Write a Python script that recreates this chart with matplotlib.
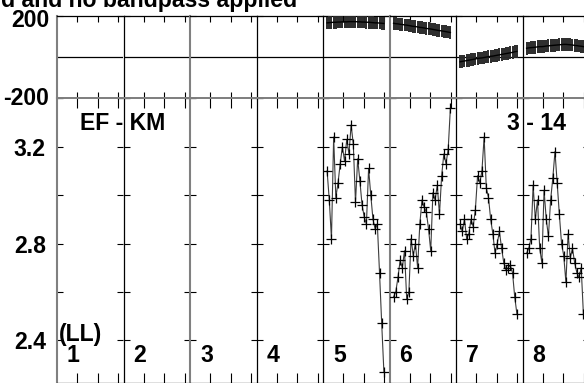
import matplotlib
matplotlib.use("Agg")
import matplotlib.pyplot as plt
import numpy as np

# ---------------- data ----------------
panel_numbers = ["1", "2", "3", "4", "5", "6", "7", "8"]
chan = [0.8 + 0.427 * i for i in range(27)]  # channel positions within a panel

phase5 = [168, 169, 170, 171, 171, 172, 172, 173, 173, 173, 174, 174, 174, 174,
          173, 173, 172, 172, 171, 171, 170, 169, 168, 168, 167, 166, 165]
phase6 = [166, 164, 163, 161, 160, 158, 157, 155, 153, 151, 150, 148, 146, 145,
          143, 141, 139, 138, 136, 134, 132, 130, 129, 127, 125, 123, 121]
phase7 = [-22, -20, -18, -16, -14, -12, -10, -8, -6, -4, -3, -1, 1, 3,
          5, 6, 8, 10, 12, 14, 16, 18, 20, 22, 24, 27, 29]
phase8 = [44, 46, 47, 48, 49, 51, 52, 52, 53, 55, 56, 57, 58, 59,
          60, 61, 62, 63, 63, 62, 61, 60, 58, 57, 55, 54, 52]
phase_err = 31

amp5 = [3.10, 2.98, 2.82, 3.24, 2.99, 3.05, 3.13, 3.20, 3.14, 3.23, 3.17, 3.29, 3.21, 2.97,
        3.15, 3.06, 2.96, 2.91, 2.88, 3.11, 3.00, 2.90, 2.86, 2.88, 2.68, 2.47, 2.27]
amp6 = [2.58, 2.60, 2.66, 2.73, 2.70, 2.77, 2.57, 2.60, 2.82, 2.75, 2.80, 2.70, 2.88, 2.98,
        2.95, 2.93, 2.86, 2.77, 3.01, 2.98, 3.04, 2.92, 3.08, 3.17, 3.13, 3.19, 3.36]
amp7 = [2.88, 2.85, 2.90, 2.82, 2.84, 2.90, 2.87, 2.94, 3.08, 3.05, 3.10, 3.24, 3.03, 2.99,
        2.90, 2.84, 2.76, 2.80, 2.85, 2.78, 2.72, 2.69, 2.70, 2.71, 2.68, 2.58, 2.51]
amp8 = [2.76, 2.78, 2.82, 3.04, 2.90, 2.98, 2.78, 2.72, 3.02, 2.90, 2.83, 2.98, 3.07, 3.18,
        3.05, 2.92, 2.80, 2.75, 2.64, 2.84, 2.74, 2.78, 2.72, 2.68, 2.66, 2.70, 2.51]

phases = {4: phase5, 5: phase6, 6: phase7, 7: phase8}
amps = {4: amp5, 5: amp6, 6: amp7, 7: amp8}

phase_ticks = [-200, 200]
phase_labels = ["-200", "200"]
amp_ticks = [2.4, 2.6, 2.8, 3.0, 3.2, 3.4]
amp_labels = ["2.4", "", "2.8", "", "3.2", ""]
x_ticks = [4, 8, 12]

title_text = "d and no bandpass applied"
baseline_label = "EF - KM"
source_label = "3 - 14"
pol_label = "(LL)"

# ---------------- layout ----------------
W, H = 584, 383
FONT = "Liberation Sans"
FS = 16.6
fig = plt.figure(figsize=(W / 100, H / 100), dpi=100)

x0 = 57.0
pw = 66.5
top_y0, top_y1 = 16.3, 98.3
bot_y0, bot_y1 = 98.3, 383.0

spine_cols = ["#808080", "black", "#808080", "black", "black", "#808080", "black", "black"]

def fx(px):
    return px / W

def fy(py):
    return 1 - py / H

for i in range(8):
    left = x0 + pw * i
    axt = fig.add_axes([fx(left), fy(top_y1), pw / W, (top_y1 - top_y0) / H])
    axb = fig.add_axes([fx(left), fy(bot_y1), pw / W, (bot_y1 - bot_y0) / H])

    for ax in (axt, axb):
        ax.set_xlim(0, 13)
        ax.set_xticks(x_ticks)
        ax.set_xticklabels([])
        ax.tick_params(axis="both", direction="in", top=True, bottom=True,
                       left=True, right=True, length=4.5, width=0.8, color="black")
        ax.spines["right"].set_visible(i == 7)
        ax.spines["left"].set_color(spine_cols[i])
        ax.spines["left"].set_linewidth(1.5 if spine_cols[i] != "black" else 0.9)
        ax.spines["top"].set_linewidth(0.9)
        ax.spines["bottom"].set_linewidth(0.9)
        ax.patch.set_visible(False)

    axt.spines["bottom"].set_color("#808080")
    axt.spines["bottom"].set_linewidth(1.4)
    axb.spines["top"].set_color("#808080")
    axb.spines["top"].set_linewidth(1.4)
    axb.tick_params(axis="x", which="both", length=7)

    axt.set_ylim(-200, 200)
    axt.set_yticks(phase_ticks)
    axt.axhline(0, color="black", lw=0.9, zorder=1)
    axb.set_ylim(2.2236, 3.4)
    axb.set_yticks(amp_ticks)
    axt.set_yticklabels([])

    if i == 0:
        axb.set_yticklabels(amp_labels, fontsize=FS, fontweight="bold", family=FONT)
        axb.tick_params(axis="y", pad=8)
        # phase labels drawn as texts so the top one can sit just inside the figure
        axt.text(-8 / pw, -200, phase_labels[0], transform=axt.get_yaxis_transform(),
                 fontsize=FS, fontweight="bold", family=FONT, ha="right", va="center")
        fig.text(fx(49.5), fy(20.5), phase_labels[1], fontsize=FS, fontweight="bold",
                 family=FONT, ha="right", va="center")
    else:
        axb.set_yticklabels([])

    if i in phases:
        axt.errorbar(chan, phases[i], yerr=phase_err, fmt="-", color="black", lw=1.0,
                     ecolor="#2a2a2a", elinewidth=1.4, capsize=0, zorder=3, clip_on=True)
        axb.plot(chan, amps[i], "-", color="#3c3c3c", lw=0.8, zorder=3)
        axb.plot(chan, amps[i], "+", color="black", ms=7.5, mew=0.9, zorder=4)

    axb.text(10 / pw, 1 - (362.5 - bot_y0) / (bot_y1 - bot_y0), panel_numbers[i],
             transform=axb.transAxes, fontsize=FS, fontweight="bold", family=FONT,
             ha="left", va="baseline")

# labels
fig.text(fx(59), fy(341.5), pol_label, fontsize=FS, fontweight="bold", family=FONT,
         ha="left", va="baseline")
fig.text(fx(80), fy(123.5), baseline_label, fontsize=FS, fontweight="bold", family=FONT,
         ha="left", va="center")
fig.text(fx(507), fy(123.5), source_label, fontsize=FS, fontweight="bold", family=FONT,
         ha="left", va="center")
fig.text(fx(297), fy(7.5), title_text, fontsize=FS, fontweight="bold", family=FONT,
         ha="right", va="baseline")

fig.savefig("out.png", dpi=100)
